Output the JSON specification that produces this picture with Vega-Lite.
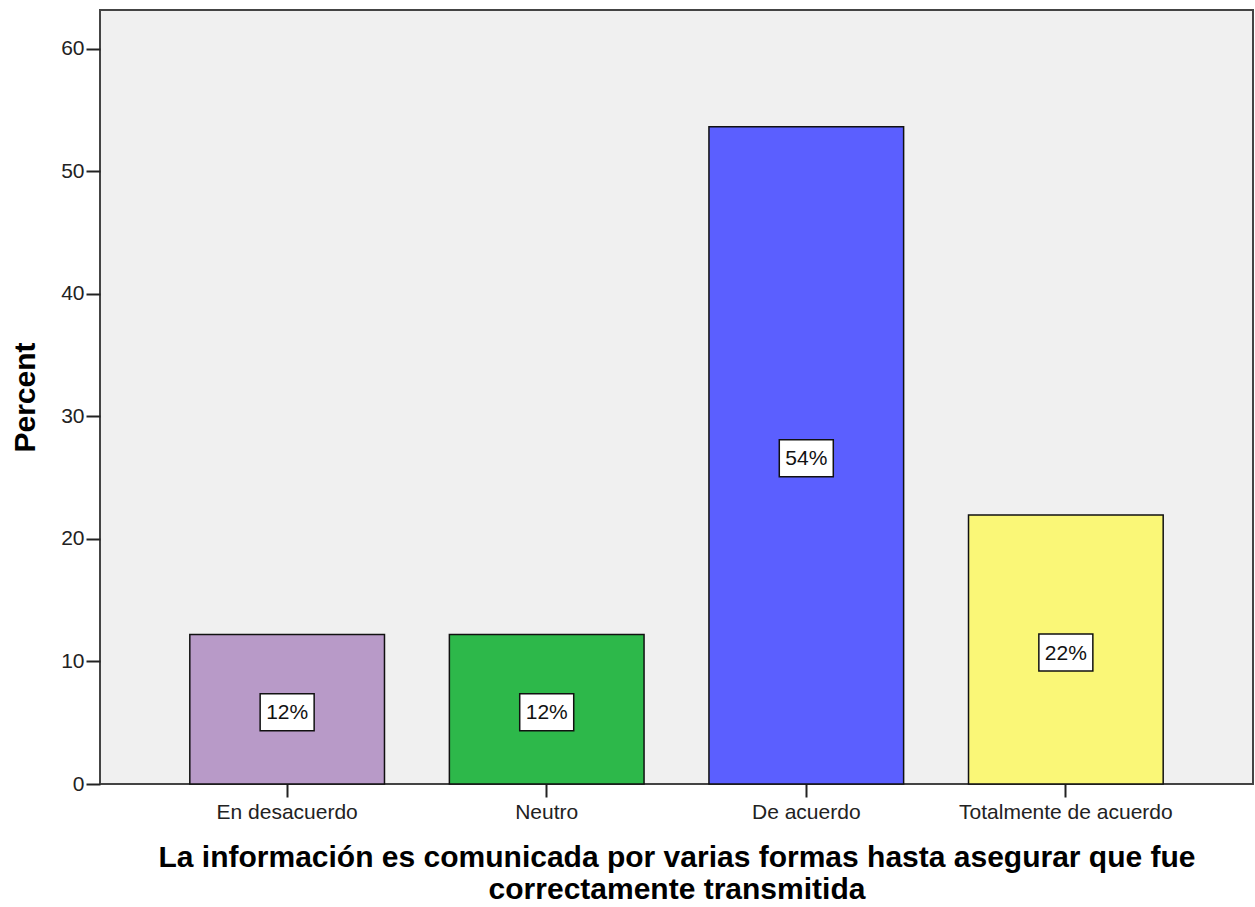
{
  "$schema": "https://vega.github.io/schema/vega-lite/v6.json",
  "width": 1153,
  "height": 774,
  "autosize": "none",
  "padding": {"left": 100, "top": 10, "right": 2, "bottom": 123},
  "background": "white",
  "config": {
    "view": {"fill": "#F0F0F0", "stroke": "#444444", "strokeWidth": 2},
    "font": "Liberation Sans",
    "axis": {"labelColor": "#222222", "tickColor": "#222222", "titleColor": "black", "grid": false, "domain": false}
  },
  "data": {
    "values": [
      {"cat": "En desacuerdo", "pct": 12.195, "label": "12%"},
      {"cat": "Neutro", "pct": 12.195, "label": "12%"},
      {"cat": "De acuerdo", "pct": 53.659, "label": "54%"},
      {"cat": "Totalmente de acuerdo", "pct": 21.951, "label": "22%"}
    ]
  },
  "transform": [{"calculate": "datum.pct / 2", "as": "mid"}],
  "encoding": {
    "x": {
      "field": "cat",
      "type": "nominal",
      "sort": null,
      "scale": {"paddingInner": 0.25, "paddingOuter": 0.346},
      "axis": {
        "labelAngle": 0,
        "labelFontSize": 21,
        "labelPadding": 4,
        "labelLimit": 0,
        "labelFlush": false,
        "labelOverlap": false,
        "tickSize": 13,
        "tickWidth": 2,
        "title": ["La información es comunicada por varias formas hasta asegurar que fue", "correctamente transmitida"],
        "titleFontSize": 30,
        "titleFontWeight": "bold",
        "titlePadding": 20,
        "titleLineHeight": 32
      }
    }
  },
  "layer": [
    {
      "mark": {"type": "bar", "stroke": "#111111", "strokeWidth": 1.5},
      "encoding": {
        "y": {
          "field": "pct",
          "type": "quantitative",
          "scale": {"domain": [0, 63.18], "nice": false},
          "axis": {
            "values": [0, 10, 20, 30, 40, 50, 60],
            "labelFontSize": 21,
            "labelPadding": 2,
            "tickSize": 14,
            "tickWidth": 2,
            "title": "Percent",
            "titleFontSize": 30,
            "titleFontWeight": "bold",
            "titlePadding": 20
          }
        },
        "color": {
          "field": "cat",
          "type": "nominal",
          "sort": null,
          "scale": {
            "domain": ["En desacuerdo", "Neutro", "De acuerdo", "Totalmente de acuerdo"],
            "range": ["#B89AC8", "#2DB84A", "#5B5FFF", "#FAF777"]
          },
          "legend": null
        }
      }
    },
    {
      "mark": {
        "type": "point",
        "shape": "M-1,-0.685L1,-0.685L1,0.685L-1,0.685Z",
        "size": 2916,
        "filled": true,
        "fill": "white",
        "stroke": "#111111",
        "strokeWidth": 1.5,
        "opacity": 1,
        "yOffset": 3
      },
      "encoding": {
        "y": {"field": "mid", "type": "quantitative"}
      }
    },
    {
      "mark": {"type": "text", "fontSize": 21, "color": "#111111", "yOffset": 4, "baseline": "middle"},
      "encoding": {
        "y": {"field": "mid", "type": "quantitative"},
        "text": {"field": "label"}
      }
    }
  ]
}
